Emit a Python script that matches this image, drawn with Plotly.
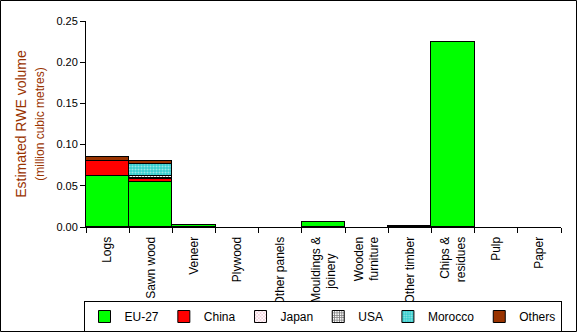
import plotly.graph_objects as go

NB = "\u00a0"
categories = ["Logs", "Sawn wood", "Veneer", "Plywood", "Other panels",
              "Mouldings &<br>joinery" + NB * 5, "Wooden<br>furniture", "Other timber",
              "Chips &<br>residues", "Pulp", "Paper"]

eu27 = [0.062, 0.055, 0.003, 0, 0, 0.0065, 0, 0.001, 0.225, 0, 0]
china = [0.018, 0.0035, 0, 0, 0, 0, 0, 0, 0, 0, 0]
japan = [0, 0.001, 0, 0, 0, 0, 0, 0, 0, 0, 0]
usa = [0, 0.002, 0, 0, 0, 0, 0, 0, 0, 0, 0]
morocco = [0, 0.015, 0, 0, 0, 0, 0, 0, 0, 0, 0]
others = [0.0055, 0.004, 0, 0, 0, 0, 0, 0, 0, 0, 0]

y_ticks = [0.0, 0.05, 0.10, 0.15, 0.20, 0.25]

series = [
    ("EU-27", eu27, dict(color="#00ff00")),
    ("China", china, dict(color="#ff0000")),
    ("Japan", japan, dict(color="white",
                          pattern=dict(shape="x", fgcolor="#cc3366", bgcolor="white",
                                       size=3, solidity=0.3))),
    ("USA", usa, dict(color="black",
                      pattern=dict(shape="+", fgcolor="black", bgcolor="white",
                                   size=3, solidity=0.6))),
    ("Morocco", morocco, dict(color="#33cccc",
                              pattern=dict(shape=".", fgcolor="white", bgcolor="#33cccc",
                                           size=3, solidity=0.4))),
    ("Others", others, dict(color="#993300")),
]

fig = go.Figure()
for name, vals, mk in series:
    mk = dict(mk)
    mk["line"] = dict(color="black", width=1)
    fig.add_trace(go.Bar(name=name, x=categories,
                         y=[v if v else None for v in vals], marker=mk))

L, R, T, B = 86, 16, 21, 105
W, H = 577, 332
pw, ph = W - L - R, H - T - B

fig.update_layout(
    width=W, height=H, barmode="stack", bargap=0,
    margin=dict(l=L, r=R, t=T, b=B, autoexpand=False),
    paper_bgcolor="white", plot_bgcolor="white",
    font=dict(family="Liberation Sans, Arial, sans-serif", size=11, color="black"),
    showlegend=True,
    legend=dict(orientation="h", xref="container", yref="container",
                x=322.5 / W, xanchor="center",
                y=(H - 301) / H, yanchor="top",
                bordercolor="black", borderwidth=1, bgcolor="white",
                font=dict(size=12), itemwidth=30, traceorder="normal"),
    xaxis=dict(tickangle=-90, showline=True, linecolor="black", linewidth=1,
               ticks="outside", tickson="boundaries", ticklen=5, tickcolor="black",
               ticklabelstandoff=4,
               showgrid=False, tickfont=dict(size=12), automargin=False),
    yaxis=dict(range=[0, 0.25], tickvals=y_ticks, tickformat=".2f",
               showline=True, linecolor="black", linewidth=1,
               ticks="outside", ticklen=5, tickcolor="black",
               showgrid=False, zeroline=False, tickfont=dict(size=11), automargin=False,
               title=dict(text="Estimated RWE volume<br><span style='font-size:12px'>(million cubic metres)</span>",
                          font=dict(size=14, color="#993300"), standoff=8)),
    shapes=[dict(type="rect", xref="paper", yref="paper",
                 x0=(0.5 - L) / pw, x1=(W - 0.5 - L) / pw,
                 y0=(ph - (H - 0.5 - T)) / ph, y1=(ph + T - 0.5) / ph,
                 line=dict(color="black", width=1), fillcolor="rgba(0,0,0,0)",
                 layer="below")],
)

fig.write_html("out.html")
